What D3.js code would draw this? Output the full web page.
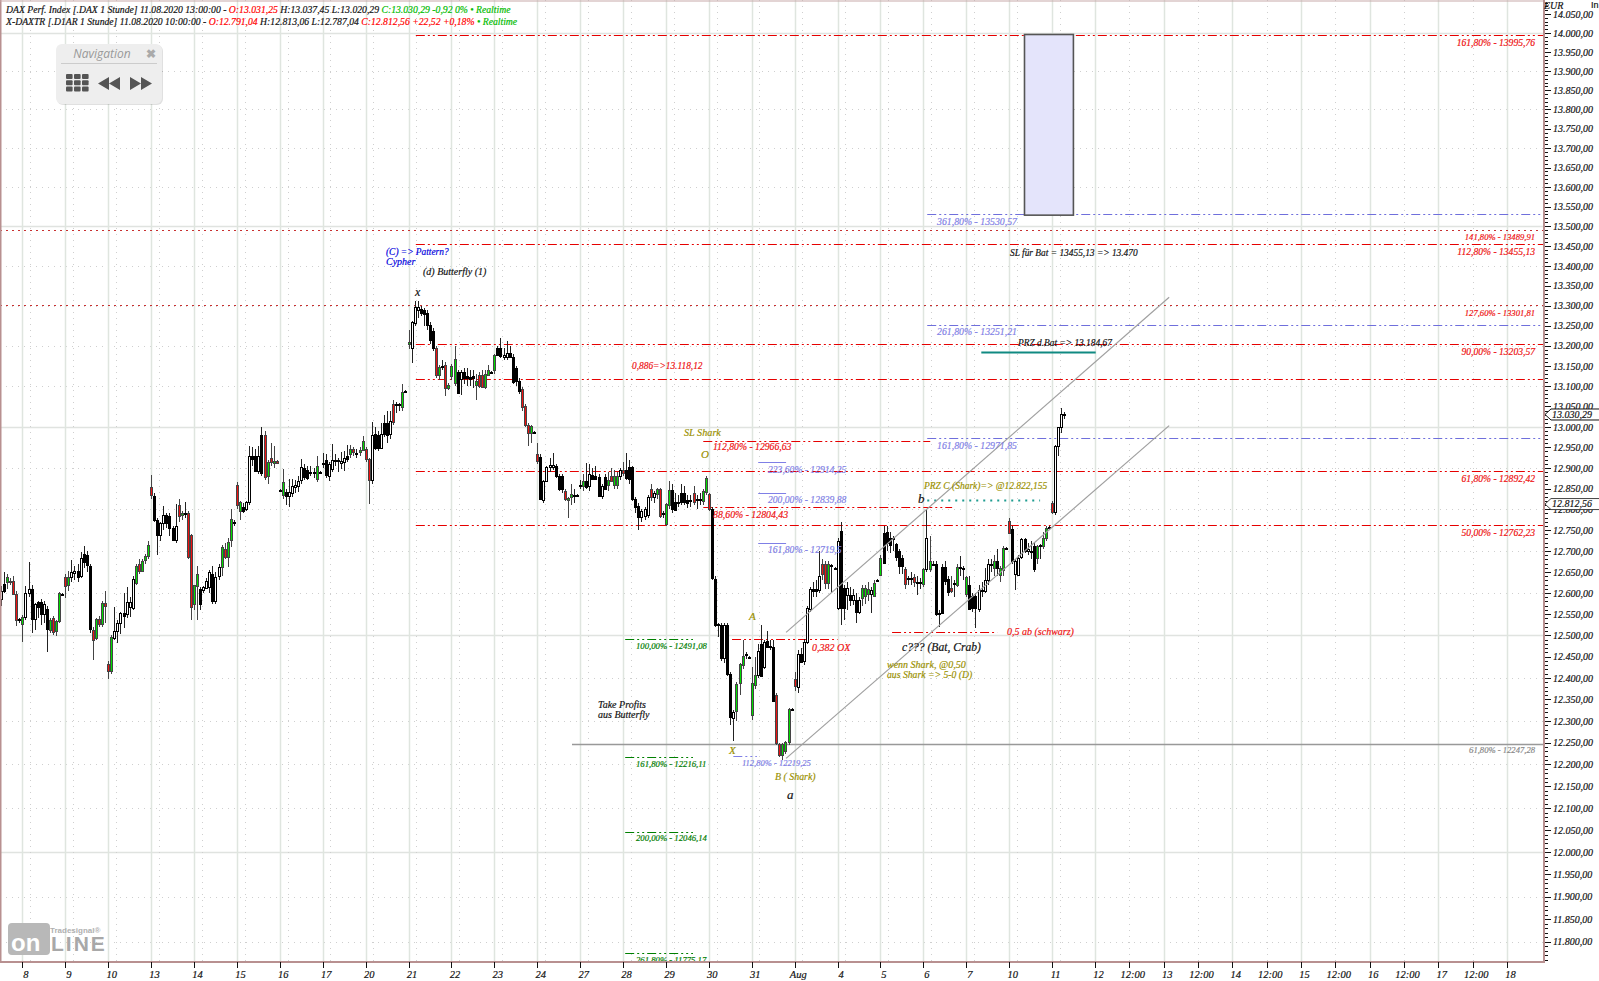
<!DOCTYPE html>
<html><head><meta charset="utf-8">
<script src="https://cdn.jsdelivr.net/npm/d3@7"></script>
<style>
html,body{margin:0;padding:0;background:#fff;overflow:hidden}
svg{display:block}
text{font-family:"Liberation Serif",serif;font-style:italic}
</style></head><body><svg id="c" width="1599" height="981"></svg>
<script>
// Hourly candles per trading day: [open, high, low, close, overlayFlag]
const jul07=[[12585,12617,12570,12605],[12621,12649,12600,12605],[12626,12645,12610,12638,1],[12626,12635,12620,12629,1],[12629,12640,12595,12598,1],[12598,12605,12521,12537,1],[12537,12541,12530,12539]];
const jul08=[[12526,12549,12485,12543,1],[12545,12617,12535,12601],[12601,12673,12590,12610],[12610,12618,12505,12538],[12538,12577,12513,12573],[12578,12582,12540,12565],[12578,12585,12525,12550],[12550,12582,12530,12573],[12561,12568,12461,12513],[12513,12540,12505,12537,1],[12541,12545,12500,12509,1],[12509,12535,12498,12533,1],[12533,12602,12528,12599,1],[12597,12600,12594,12597]];
const jul09=[[12638,12645,12589,12617,1],[12619,12653,12605,12638,1],[12637,12678,12625,12649],[12649,12665,12630,12653],[12653,12668,12625,12639],[12639,12697,12635,12682],[12693,12711,12660,12673],[12690,12700,12650,12665],[12663,12668,12505,12513],[12513,12520,12443,12490,1],[12493,12540,12488,12538,1],[12538,12545,12520,12527,1],[12527,12580,12520,12577,1],[12577,12605,12529,12569,1]];
const jul10=[[12433,12440,12398,12417,1],[12417,12500,12410,12497,1],[12495,12567,12490,12511],[12511,12535,12481,12529],[12529,12555,12503,12553],[12553,12600,12517,12547],[12549,12613,12540,12578],[12566,12590,12543,12578],[12566,12640,12560,12634],[12625,12670,12620,12665,1],[12669,12680,12645,12653,1],[12653,12680,12650,12677,1],[12677,12692,12670,12687,1],[12687,12723,12680,12714,1]];
const jul13=[[12853,12882,12825,12833,1],[12833,12840,12770,12775],[12775,12780,12690,12738],[12738,12770,12725,12766],[12766,12809,12750,12785],[12785,12790,12755,12765],[12783,12790,12735,12754],[12754,12760,12725,12725],[12725,12813,12720,12759],[12811,12825,12770,12785,1],[12785,12795,12775,12790,1],[12790,12817,12780,12791],[12790,12795,12680,12685,1],[12737,12740,12535,12565,1]];
const jul14=[[12573,12620,12560,12618,1],[12617,12665,12535,12645,1],[12609,12615,12560,12573],[12605,12616,12600,12613],[12613,12635,12610,12629],[12613,12655,12600,12649],[12645,12665,12575,12581],[12581,12650,12573,12639],[12639,12670,12630,12661],[12661,12715,12640,12709,1],[12705,12720,12680,12685,1],[12687,12730,12661,12722,1],[12727,12801,12710,12777,1],[12770,12773,12760,12770]];
const jul15=[[12858,12866,12800,12809,1],[12795,12820,12775,12817,1],[12805,12815,12790,12795],[12801,12820,12795,12818],[12818,12953,12810,12929],[12929,12950,12905,12921],[12929,12945,12890,12893],[12893,12953,12885,12929],[12981,13000,12880,12889],[12981,12990,12870,12879,1],[12879,12918,12860,12914,1],[12923,12960,12905,12914,1],[12911,12953,12900,12917,1],[12917,12920,12912,12913,1]];
const jul16=[[12847,12850,12845,12847],[12833,12897,12825,12865,1],[12841,12850,12810,12831],[12831,12873,12806,12841],[12841,12873,12830,12857],[12853,12870,12840,12858],[12857,12880,12841,12869],[12869,12921,12860,12901],[12899,12910,12870,12877],[12896,12905,12870,12877],[12889,12905,12880,12889],[12889,12900,12875,12889],[12873,12929,12865,12905,1],[12889,12892,12886,12889]];
const jul17=[[12911,12937,12900,12911],[12918,12935,12875,12881],[12881,12915,12869,12909],[12897,12957,12890,12919],[12917,12935,12905,12919],[12919,12925,12890,12918],[12911,12938,12897,12917],[12913,12940,12893,12923],[12929,12955,12915,12921],[12933,12955,12925,12946,1],[12945,12950,12930,12937,1],[12937,12945,12925,12937],[12937,12950,12930,12943,1],[12943,12978,12940,12966,1]];
const jul20=[[12945,12950,12915,12921,1],[12921,12925,12813,12871,1],[12871,13012,12860,12981],[12983,13000,12943,12950],[12981,12990,12940,12950],[12950,13010,12945,12983],[13010,13030,12975,12983],[13010,13040,12960,12981],[12981,13040,12970,13014],[13057,13067,13005,13014,1],[13055,13060,13035,13055],[13055,13058,13040,13055],[13048,13106,13040,13086,1],[13087,13090,13085,13087]];
const jul21=[[13206,13239,13191,13210,1],[13194,13262,13157,13259],[13255,13312,13250,13296],[13288,13312,13270,13296],[13292,13300,13275,13283],[13288,13295,13250,13278],[13281,13290,13239,13251],[13251,13258,13205,13214],[13237,13245,13188,13194],[13194,13200,13120,13126,1],[13126,13153,13115,13147,1],[13149,13165,13140,13149],[13153,13160,13075,13096,1],[13096,13108,13090,13103,1]];
const jul22=[[13124,13155,13115,13149,1],[13108,13200,13100,13167,1],[13136,13140,13083,13083],[13118,13140,13079,13136],[13134,13145,13105,13118],[13124,13145,13100,13118],[13123,13140,13100,13118],[13124,13140,13096,13118],[13101,13130,13067,13112,1],[13127,13135,13095,13100,1],[13127,13140,13095,13098,1],[13098,13140,13094,13130,1],[13128,13152,13125,13141,1],[13134,13137,13130,13134]];
const jul23=[[13139,13180,13130,13177,1],[13194,13200,13175,13177],[13194,13220,13170,13173],[13172,13195,13165,13177],[13172,13212,13165,13183],[13183,13200,13170,13172],[13173,13180,13105,13112],[13145,13150,13100,13112],[13112,13120,13080,13087],[13093,13098,13040,13049,1],[13051,13055,13000,13004,1],[13004,13010,12954,12985,1],[12987,13005,12961,13003,1],[12987,12990,12985,12987]];
const jul24=[[12935,12960,12910,12919,1],[12927,12935,12825,12825],[12823,12870,12815,12869],[12869,12905,12865,12903],[12901,12925,12890,12907],[12901,12937,12895,12907],[12905,12910,12875,12881],[12881,12885,12845,12850],[12881,12885,12840,12849],[12845,12850,12820,12825,1],[12821,12830,12778,12827,1],[12829,12860,12810,12837,1],[12834,12850,12815,12834],[12834,12836,12832,12834]];
const jul27=[[12858,12870,12850,12858],[12858,12885,12845,12869,1],[12869,12911,12850,12855],[12855,12909,12845,12885],[12883,12900,12870,12873],[12881,12905,12870,12873],[12879,12885,12830,12833],[12833,12862,12825,12857],[12879,12885,12850,12849],[12858,12890,12845,12871,1],[12881,12900,12865,12869,1],[12858,12895,12850,12881,1],[12858,12890,12850,12881,1],[12881,12900,12870,12895]];
const jul28=[[12895,12915,12880,12887,1],[12894,12937,12870,12874],[12901,12920,12860,12873],[12901,12905,12820,12823],[12825,12830,12790,12806],[12809,12815,12749,12783],[12783,12800,12770,12797],[12785,12805,12773,12801],[12786,12835,12780,12829],[12849,12860,12820,12829,1],[12829,12845,12815,12839],[12837,12852,12825,12849,1],[12849,12852,12780,12785,1],[12790,12795,12780,12790]];
const jul29=[[12766,12815,12760,12813,1],[12810,12869,12800,12847,1],[12847,12860,12790,12801],[12818,12840,12795,12799],[12815,12835,12805,12818],[12839,12860,12810,12818],[12839,12855,12810,12818],[12823,12835,12802,12815],[12823,12835,12805,12823],[12839,12855,12810,12818,1],[12822,12835,12800,12825],[12825,12840,12810,12825],[12821,12850,12810,12845,1],[12842,12881,12835,12875,1]];
const jul30=[[12837,12840,12795,12801,1],[12800,12805,12630,12634],[12634,12640,12520,12526],[12526,12530,12496,12524],[12524,12530,12440,12446],[12446,12530,12435,12524],[12524,12530,12405,12409],[12409,12415,12290,12309],[12309,12325,12254,12322],[12322,12390,12300,12385,1],[12388,12435,12360,12432,1],[12432,12490,12420,12452,1],[12455,12460,12445,12455],[12450,12452,12448,12450]];
const jul31=[[12314,12425,12302,12388,1],[12385,12450,12375,12408,1],[12408,12480,12400,12464],[12480,12525,12405,12404],[12426,12490,12420,12484],[12487,12510,12470,12474],[12474,12490,12465,12476],[12473,12490,12345,12347],[12360,12365,12245,12248,1],[12247,12250,12218,12221,1],[12221,12250,12211,12247,1],[12231,12255,12225,12252,1],[12252,12330,12245,12329,1],[12329,12331,12327,12329]];
const aug03=[[12397,12415,12370,12380,1],[12380,12465,12364,12457],[12457,12470,12435,12439],[12439,12492,12430,12484],[12484,12570,12480,12564],[12562,12615,12555,12610],[12610,12625,12590,12606],[12610,12630,12590,12606],[12606,12700,12600,12640],[12668,12680,12630,12644,1],[12668,12675,12610,12622,1],[12622,12675,12610,12668,1],[12666,12670,12600,12666],[12660,12662,12658,12660]];
const aug04=[[12564,12730,12560,12724],[12748,12770,12525,12564],[12612,12620,12536,12564],[12596,12625,12560,12612],[12596,12615,12570,12584],[12584,12610,12572,12596],[12584,12600,12528,12556],[12556,12590,12550,12584],[12588,12620,12570,12612,1],[12592,12620,12575,12612,1],[12598,12625,12580,12610,1],[12598,12615,12552,12608],[12594,12630,12590,12624,1],[12630,12632,12628,12630]];
const aug05=[[12644,12690,12640,12684,1],[12744,12760,12670,12672],[12746,12760,12700,12720],[12732,12745,12695,12716],[12732,12735,12700,12730],[12716,12720,12675,12684],[12700,12705,12644,12664],[12684,12690,12645,12664],[12656,12662,12610,12620,1],[12636,12640,12620,12636],[12636,12650,12620,12636],[12638,12645,12615,12626,1],[12626,12640,12596,12626],[12626,12635,12610,12626]];
const aug06=[[12622,12660,12615,12658,1],[12658,12800,12650,12732],[12658,12735,12650,12676,1],[12670,12675,12665,12670],[12668,12675,12545,12550],[12550,12560,12520,12552],[12662,12670,12550,12552],[12662,12675,12620,12628],[12634,12640,12592,12604],[12612,12640,12600,12604,1],[12624,12630,12590,12624],[12620,12670,12615,12662,1],[12662,12688,12640,12662],[12660,12665,12630,12660]];
const aug07=[[12598,12640,12590,12638,1],[12620,12640,12560,12564],[12592,12600,12555,12564],[12592,12600,12518,12564],[12564,12620,12555,12608],[12608,12625,12590,12608],[12604,12660,12600,12630],[12630,12680,12620,12668],[12668,12680,12650,12668],[12660,12690,12640,12676,1],[12676,12704,12640,12660],[12644,12665,12625,12660,1],[12656,12712,12640,12708,1],[12708,12710,12706,12708]];
const aug10=[[12772,12778,12740,12744,1],[12752,12760,12670,12676],[12644,12680,12606,12676],[12644,12690,12640,12684],[12684,12730,12680,12728],[12728,12732,12695,12700],[12700,12720,12690,12705],[12700,12725,12680,12700],[12712,12720,12650,12658],[12684,12715,12670,12712,1],[12714,12716,12680,12714],[12714,12745,12705,12732,1],[12732,12760,12725,12756,1],[12758,12760,12755,12758]];
const aug11=[[12814,12820,12788,12792,1],[12792,12955,12785,12953],[12953,13000,12930,13000],[13000,13046,12985,13032],[13032,13037,13020,13030]];
const tradingDays=[jul08,jul09,jul10,jul13,jul14,jul15,jul16,jul17,jul20,jul21,jul22,jul23,jul24,jul27,jul28,jul29,jul30,jul31,aug03,aug04,aug05,aug06,aug07,aug10,aug11];
const priorDay=jul07, priorDayFirstSlot=7, barsPerDay=14;

// Axis labels
const dayLabels=['8','9','10','13','14','15','16','17','20','21','22','23','24','27','28','29','30','31','Aug','4','5','6','7','10','11','12','13','14','15','16','17','18'];
const noonLabel='12:00', noonDays=[25.5,26.5,27.5,28.5,29.5,30.5];
const priceTickMin=11800, priceTickMax=14050;

// Levels (price; spans are in day units)
const redLevels=[13995.76,13455.13,13203.57,13118.12,12892.42,12762.23];
const redShort=[[12966.63,15.87,21.16],[12804.43,15.87,21.67],[12492,16.54,19.0],[12507,20.27,22.72]];
const dottedLevels=[13489.91,13301.81];
const blueLevels=[13530.57,13251.21,12971.85];
const blueStubs=[12914.25,12839.88,12719.5];
const blueDashStub=[12219.25,16.57,17.12];
const greenLevels=[12491.08,12216.11,12046.14,11775.17];
const greyLevel=[12247.28,12.81];
const tealDotted=[12822.155,21.09,23.72];
const tealSolid=[13184.67,22.35,25.01];
const targetBox=[23.35,24.49,13995.76,13530.57];
const channelUpper=[[17.8,12507],[26.08,13321]];
const channelLower=[[17.8,12214],[26.08,13003]];
const lastPrices=[13030.29,12812.56];

const header1=[['DAX Perf. Index [.DAX 1 Stunde] 11.08.2020 13:00:00 - ','#111'],['O:13.031,25','#f00'],[' H:13.037,45 L:13.020,29 ','#111'],['C:13.030,29 -0,92 0% • Realtime','#0b0']];
const header2=[['X-DAXTR [.D1AR 1 Stunde] 11.08.2020 10:00:00 - ','#111'],['O:12.791,04','#f00'],[' H:12.813,06 L:12.787,04 ','#111'],['C:12.812,56 +22,52 +0,18%','#f00'],[' • Realtime','#0b0']];

const RED='#ee1111',BLUE='#7f7fe6',OLIVE='#9a9000',DGREEN='#007c00',INK='#111';
// text, x, y(centre), colour, size
const notes=[
['161,80% - 13995,76',1535,43,RED,9.6,'end'],['141,80% - 13489,91',1535,237,RED,8.6,'end'],['112,80% - 13455,13',1535,252,RED,9.6,'end'],
['127,60% - 13301,81',1535,313,RED,8.6,'end'],['90,00% - 13203,57',1535,352,RED,9.6,'end'],['61,80% - 12892,42',1535,479,RED,9.6,'end'],
['50,00% - 12762,23',1535,533,RED,9.6,'end'],['61,80% - 12247,28',1535,750,'#888',8.6,'end'],
['361,80% - 13530,57',937,222,BLUE,9.8],['261,80% - 13251,21',937,332,BLUE,9.8],['161,80% - 12971,85',937,446,BLUE,9.8],
['223,60% - 12914,25',768,470,BLUE,9.6],['200,00% - 12839,88',768,500,BLUE,9.6],['161,80% - 12719,5',768,550,BLUE,9.6],
['112,80% - 12219,25',742,763,BLUE,8.5],
['100,00% - 12491,08',636,646,DGREEN,8.7],['161,80% - 12216,11',636,764,DGREEN,8.7],['200,00% - 12046,14',636,838,DGREEN,8.7],['261,80% - 11775,17',636,960,DGREEN,8.7],
['0,886=>13.118,12',632,366,RED,9.4],['112,80% - 12966,63',713,447,RED,9.7],['88,60% - 12804,43',713,515,RED,9.8],['0,382 OX',812,648,RED,10],['0,5 ab (schwarz)',1007,632,RED,10],
['(C) => Pattern?',386,252,'#0000dd',9.4],['Cypher',386,262,'#0000dd',10],['(d) Butterfly (1)',423,272,INK,10],['x',415,292,INK,12],
['SL Shark',684,433,OLIVE,10.2],['O',701,454,OLIVE,11],['A',749,616,OLIVE,11],['X',729,750,OLIVE,11],['B ( Shark)',775,777,OLIVE,9.9],['a',787,795,INK,13],
['Take Profits',598,705,INK,10],['aus Butterfly',598,715,INK,10],
['c??? (Bat, Crab)',902,647,INK,11.6],['wenn Shark, @0,50',887,665,OLIVE,10],['aus Shark => 5-0 (D)',887,675,OLIVE,9.7],
['PRZ C (Shark)=> @12.822,155',924,486,OLIVE,9.5],['b',918,499,INK,13],['PRZ d.Bat => 13.184,67',1018,343,INK,9.4],['SL für Bat = 13455,13 => 13.470',1010,253,INK,9.4]
];

const plotRight=1543, plotBottom=962;
const x=d3.scaleLinear().domain([0,25,31]).range([22.4,1095,1507]);
const y=d3.scaleLog().domain([14000,11800]).range([33,941.6]);
const svg=d3.select('#c');
const crisp=v=>Math.round(v)+0.5;
svg.append('defs').append('clipPath').attr('id','plot').append('rect').attr('x',0).attr('y',0).attr('width',plotRight).attr('height',plotBottom);
const plot=svg.append('g').attr('clip-path','url(#plot)');

// grid
const majorPrices=d3.range(12000,14001,500), dotPrices=d3.range(11800,14001,100).filter(p=>p%500);
plot.selectAll('.gh').data(dotPrices).join('line').attr('x1',0).attr('x2',plotRight).attr('y1',d=>crisp(y(d))).attr('y2',d=>crisp(y(d))).attr('stroke','#cfcfcf').attr('stroke-dasharray','1,5');
plot.selectAll('.gH').data(majorPrices).join('line').attr('x1',0).attr('x2',plotRight).attr('y1',d=>crisp(y(d))).attr('y2',d=>crisp(y(d))).attr('stroke','#e0e3e0').attr('stroke-width',1.5);
const histDots=d3.range(-1,25).map(d=>d+0.18);
plot.selectAll('.gv').data(histDots.concat(noonDays)).join('line').attr('y1',0).attr('y2',plotBottom).attr('x1',d=>crisp(x(d))).attr('x2',d=>crisp(x(d))).attr('stroke','#cfcfcf').attr('stroke-dasharray','1,5');
plot.selectAll('.gV').data(d3.range(0,32)).join('line').attr('y1',0).attr('y2',plotBottom).attr('x1',d=>crisp(x(d))).attr('x2',d=>crisp(x(d))).attr('stroke','#dfe5df').attr('stroke-width',1.5);

// levels
function hline(p,a,b,col,dash,w){
  plot.append('line').attr('x1',a).attr('x2',b).attr('y1',crisp(y(p))).attr('y2',crisp(y(p))).attr('stroke',col).attr('stroke-width',w||1).attr('stroke-dasharray',dash||null);
}
const dd='9,3,2,3,2,3', dot='2,4';
redLevels.forEach(p=>hline(p,x(9.17),plotRight,'#e60000',dd));
redShort.forEach(r=>hline(r[0],x(r[1]),x(r[2]),'#e60000',dd));
dottedLevels.forEach(p=>hline(p,0,plotRight,'#c83030',dot));
blueLevels.forEach(p=>hline(p,x(21.09),plotRight,'#6f6fdc',dd));
blueStubs.forEach(p=>hline(p,x(17.15),x(17.8),'#7f7fe6'));
hline(blueDashStub[0],x(blueDashStub[1]),x(blueDashStub[2]),'#7f7fe6',dd);
greenLevels.forEach(p=>hline(p,x(14.05),x(15.63),'#008000',dd));
hline(greyLevel[0],x(greyLevel[1]),plotRight,'#999',null,1.5);
hline(tealSolid[0],x(tealSolid[1]),x(tealSolid[2]),'#108a82',null,2);
hline(tealDotted[0],x(tealDotted[1]),x(tealDotted[2]),'#1f9c90','2,5',2);

// target box
plot.append('rect').attr('x',crisp(x(targetBox[0]))).attr('y',crisp(y(targetBox[2]))-1).attr('width',x(targetBox[1])-x(targetBox[0])).attr('height',y(targetBox[3])-y(targetBox[2])+1).attr('fill','#e4e4fb').attr('stroke','#555').attr('stroke-width',1.6);

// candles
const bars=[];
priorDay.forEach((b,i)=>bars.push({pos:-1+(i+priorDayFirstSlot)/barsPerDay,b}));
tradingDays.forEach((day,di)=>day.forEach((b,i)=>bars.push({pos:di+i/barsPerDay,b})));
const cg=plot.append('g');
cg.selectAll('line').data(bars).join('line')
  .attr('x1',d=>Math.round(x(d.pos))+0.5).attr('x2',d=>Math.round(x(d.pos))+0.5)
  .attr('y1',d=>y(d.b[1])).attr('y2',d=>y(d.b[2])).attr('stroke',d=>d.b[4]?'#444':'#222').attr('shape-rendering','crispEdges');
cg.selectAll('rect').data(bars).join('rect')
  .attr('x',d=>Math.round(x(d.pos))-0.5).attr('width',2)
  .attr('y',d=>crisp(y(Math.max(d.b[0],d.b[3])))).attr('height',d=>Math.max(1,Math.round(Math.abs(y(d.b[0])-y(d.b[3])))))
  .attr('fill',d=>{const up=d.b[3]>=d.b[0];return d.b[4]?(up?'#00dd00':'#ee1111'):(up?'#fff':'#000');})
  .attr('stroke',d=>d.b[4]?'#444':'#000').attr('shape-rendering','crispEdges');

// channel
const ln=d3.line().x(d=>x(d[0])).y(d=>y(d[1]));
[channelUpper,channelLower].forEach(c=>plot.append('path').attr('d',ln(c)).attr('fill','none').attr('stroke','#a0a0a0').attr('stroke-width',1.2));

// annotations
plot.selectAll('.note').data(notes).join('text').attr('x',d=>d[1]).attr('y',d=>d[2]).attr('dy','0.33em')
  .attr('fill',d=>d[3]).attr('font-size',d=>d[4]).attr('text-anchor',d=>d[5]||'start').text(d=>d[0]);

// frame
const frame='#b89090';
svg.append('rect').attr('x',0).attr('y',0).attr('width',1.5).attr('height',plotBottom).attr('fill',frame);
svg.append('rect').attr('x',0).attr('y',0.5).attr('width',plotRight+2).attr('height',1).attr('fill','#c8aaaa');
svg.append('rect').attr('x',0).attr('y',plotBottom-1).attr('width',plotRight+2).attr('height',2).attr('fill',frame);
svg.append('rect').attr('x',plotRight).attr('y',0).attr('width',2).attr('height',plotBottom+1).attr('fill',frame);

// axes
const loc=d3.formatLocale({decimal:',',thousands:'.',grouping:[3],currency:['','']});
const fmt=loc.format(',.2f');
const minor=svg.append('g').attr('transform',`translate(${plotRight+2},0)`)
  .call(d3.axisRight(y).tickValues(d3.range(11760,14081,10)).tickSize(3).tickFormat(''));
minor.select('.domain').remove();
const yAxis=svg.append('g').attr('transform',`translate(${plotRight+2},0)`)
  .call(d3.axisRight(y).tickValues(d3.range(priceTickMin,priceTickMax+1,50)).tickSize(6).tickPadding(2).tickFormat(fmt));
yAxis.select('.domain').remove();
yAxis.selectAll('text').attr('font-size',10).attr('font-family','"Liberation Serif",serif').attr('fill','#111');
svg.selectAll('.tick line').attr('shape-rendering','crispEdges').attr('stroke','#111');

const xAxis=svg.append('g').attr('transform',`translate(0,${plotBottom})`)
  .call(d3.axisBottom(x).tickValues(d3.range(0,dayLabels.length)).tickSize(6).tickPadding(3).tickFormat(d=>dayLabels[d]));
xAxis.select('.domain').remove();
const xNoon=svg.append('g').attr('transform',`translate(0,${plotBottom})`)
  .call(d3.axisBottom(x).tickValues(noonDays).tickSize(6).tickPadding(3).tickFormat(()=>noonLabel));
xNoon.select('.domain').remove();
[xAxis,xNoon].forEach(g=>{g.selectAll('text').attr('font-size',10.5).attr('font-family','"Liberation Serif",serif').attr('fill','#111').attr('dx',3);g.selectAll('line').attr('shape-rendering','crispEdges').attr('stroke','#111');});

// price flags
lastPrices.forEach((p,i)=>{
  const c=y(p), f=svg.append('g');
  f.append('path').attr('d',`M${plotRight+2},${c} L${plotRight+8},${c-5.5} H1599 V${c+5.5} H${plotRight+8} Z`).attr('fill','#fff');
  f.append('path').attr('d',`M${plotRight+2},${c} L${plotRight+8},${c-5.5} H1599 M${plotRight+2},${c} L${plotRight+8},${c+5.5} H1599`).attr('fill','none').attr('stroke',i?'#444':'#111');
  f.append('text').attr('x',plotRight+9).attr('y',c).attr('dy','0.33em').attr('font-size',10).attr('fill','#111').text(fmt(p));
});
svg.append('text').attr('x',plotRight+1).attr('y',9).attr('font-size',10).attr('fill','#111').text('EUR');
svg.append('text').attr('x',1591).attr('y',8).attr('font-size',9).attr('style','font-family:"Liberation Sans",sans-serif;font-style:normal').attr('fill','#111').text('In');

// legend header
[[header1,13],[header2,25]].forEach(([parts,yy])=>{
  const t=svg.append('text').attr('x',6).attr('y',yy).attr('font-size',9.7);
  parts.forEach(p=>t.append('tspan').attr('fill',p[1]).text(p[0]));
});
// the serif labels of the reference are slightly heavier than this face
svg.selectAll('text,tspan').each(function(){const f=this.getAttribute('fill');if(f)d3.select(this).attr('stroke',f).attr('stroke-width',0.18);});

// navigation panel
const nav=svg.append('g');
nav.append('rect').attr('x',57).attr('y',45).attr('width',106).attr('height',60).attr('rx',6).attr('fill','#000').attr('opacity',.12);
nav.append('rect').attr('x',56).attr('y',44).attr('width',106).attr('height',60).attr('rx',6).attr('fill','#eeeeee');
nav.append('line').attr('x1',61).attr('x2',157).attr('y1',63.5).attr('y2',63.5).attr('stroke','#ccc');
nav.append('text').attr('x',102).attr('y',54).attr('dy','.35em').attr('text-anchor','middle').attr('font-size',12).attr('fill','#999').attr('style','font-family:"Open Sans",sans-serif;font-style:italic').text('Navigation');
nav.append('text').attr('x',151).attr('y',54).attr('dy','.35em').attr('text-anchor','middle').attr('font-size',12).attr('fill','#aaa').attr('style','font-family:"Liberation Sans",sans-serif;font-style:normal;font-weight:bold').text('✖');
d3.cross(d3.range(3),d3.range(3)).forEach(([a,b])=>nav.append('rect').attr('x',66+a*8).attr('y',74+b*6.3).attr('width',6.6).attr('height',5).attr('rx',1).attr('fill','#555'));
nav.append('path').attr('d','M98,83.5 L109,77 V90 Z M109,83.5 L120,77 V90 Z M130,77 L141,83.5 L130,90 Z M141,77 L152,83.5 L141,90 Z').attr('fill','#555');

// logo
const logo=svg.append('g');
logo.append('rect').attr('x',8).attr('y',923).attr('width',42).attr('height',32).attr('rx',4).attr('fill','#b8b8b8');
logo.append('text').attr('x',11).attr('y',951).attr('font-size',24).attr('fill','#fff').attr('style','font-family:"Liberation Sans",sans-serif;font-style:normal;font-weight:bold').text('on');
logo.append('text').attr('x',51).attr('y',951).attr('font-size',21).attr('fill','#a8a8a8').attr('style','font-family:"Liberation Sans",sans-serif;font-style:normal;font-weight:bold;letter-spacing:2px').text('LINE');
logo.append('text').attr('x',50).attr('y',933).attr('font-size',8).attr('fill','#b0b0b0').attr('style','font-family:"Liberation Sans",sans-serif;font-style:normal;font-weight:bold').text('Tradesignal®');
</script></body></html>
